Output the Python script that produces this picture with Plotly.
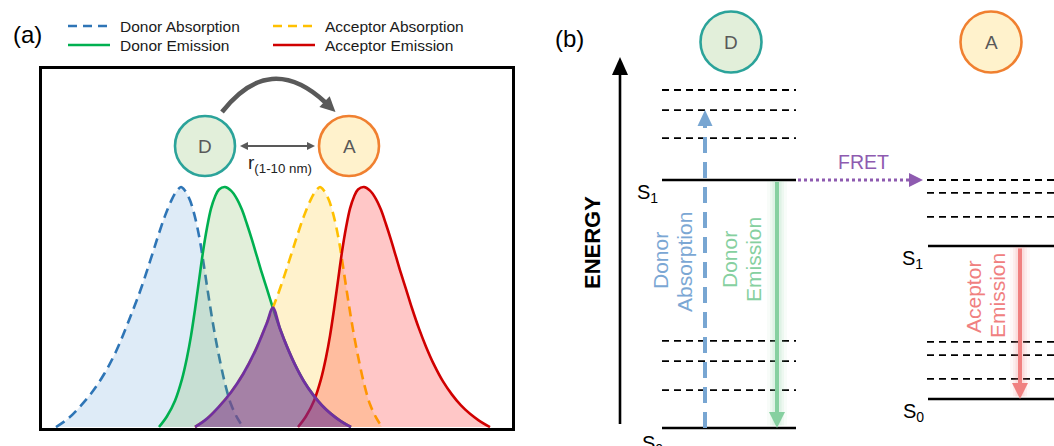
import numpy as np
import plotly.graph_objects as go

W, H = 1054, 446
FONT = "Liberation Sans, Arial, Helvetica, sans-serif"

# ---------------- Panel (a): spectra (x = wavelength, arb. units; y = normalised intensity)
don_abs_x = [56, 68, 80, 92, 104, 116, 128, 140, 150, 158, 165, 172, 177, 181,
             185, 190, 195, 200, 204, 208, 212, 216, 221, 226, 231, 237, 243]
don_abs_y = [0, 0.035, 0.085, 0.145, 0.22, 0.315, 0.435, 0.565, 0.69, 0.795, 0.88, 0.95, 0.985, 1.0,
             0.985, 0.945, 0.875, 0.775, 0.67, 0.56, 0.455, 0.36, 0.255, 0.165, 0.095, 0.04, 0]
don_em_x = [159, 167, 175, 182, 187, 191, 195, 199, 203, 207, 211, 215, 219, 225,
            231, 237, 242, 247, 252, 257, 262, 267, 273, 280, 287, 295, 304, 313, 322, 331, 340, 351]
don_em_y = [0, 0.045, 0.11, 0.2, 0.29, 0.38, 0.49, 0.61, 0.73, 0.83, 0.91, 0.96, 0.99, 1.0,
            0.985, 0.95, 0.905, 0.845, 0.78, 0.71, 0.64, 0.575, 0.495, 0.41, 0.335, 0.26, 0.19, 0.135,
            0.09, 0.055, 0.027, 0]
acc_abs_x = [195, 207, 219, 231, 243, 255, 267, 279, 289, 297, 304, 311, 316, 320,
             324, 329, 334, 339, 343, 347, 351, 355, 360, 365, 370, 376, 382]
acc_abs_y = [0, 0.035, 0.085, 0.145, 0.22, 0.315, 0.435, 0.565, 0.69, 0.795, 0.88, 0.95, 0.985, 1.0,
             0.985, 0.945, 0.875, 0.775, 0.67, 0.56, 0.455, 0.36, 0.255, 0.165, 0.095, 0.04, 0]
acc_em_x = [298, 306, 314, 321, 326, 330, 334, 338, 342, 346, 350, 354, 358, 364,
            370, 376, 381, 386, 391, 396, 401, 406, 412, 419, 426, 434, 443, 452, 461, 470, 479, 490]
acc_em_y = [0, 0.045, 0.11, 0.2, 0.29, 0.38, 0.49, 0.61, 0.73, 0.83, 0.91, 0.96, 0.99, 1.0,
            0.985, 0.95, 0.905, 0.845, 0.78, 0.71, 0.64, 0.575, 0.495, 0.41, 0.335, 0.26, 0.19, 0.135,
            0.09, 0.055, 0.027, 0]
legend_labels = ["Donor Absorption", "Donor Emission", "Acceptor Absorption", "Acceptor Emission"]

# ---------------- Panel (b): Jablonski levels (energy units: donor S0 = 0, donor S1 = 1)
donor_S = [0.0, 1.0]
donor_vib = [1.363, 1.282, 1.169, 0.351, 0.270, 0.153]
acc_S = [0.117, 0.734]
acc_vib = [1.0, 0.948, 0.851, 0.347, 0.294, 0.198]

# colours
C_BLUE, C_GREEN, C_YEL, C_RED, C_PUR = "#2E75B6", "#00B050", "#FFC000", "#D00000", "#7030A0"
F_BLUE, F_GREEN = "rgba(91,155,213,0.2)", "rgba(112,173,71,0.2)"
F_YEL, F_RED = "rgba(255,192,0,0.2)", "rgba(255,0,0,0.22)"
F_PUR = "rgba(112,48,160,0.55)"
GREY = "#595959"
T_BLUE, T_GREEN, T_RED = "#7BA7D4", "#86D0A0", "#F08080"

# pixel <-> energy mapping for panel (b) axis
E0_PX, E_SCALE = 428.0, 248.0
def e2p(e):
    return E0_PX - E_SCALE * e

fig = go.Figure()

# ---- spectra
specs = [
    (don_abs_x, don_abs_y, C_BLUE, F_BLUE, "10px,6px"),
    (don_em_x, don_em_y, C_GREEN, F_GREEN, "solid"),
    (acc_abs_x, acc_abs_y, C_YEL, F_YEL, "10px,6px"),
    (acc_em_x, acc_em_y, C_RED, F_RED, "solid"),
]
for x, y, lc, fc, dash in specs:
    fig.add_trace(go.Scatter(x=x, y=y, mode="lines", fill="tozeroy", fillcolor=fc,
                             line=dict(color=lc, width=2.6, dash=dash, shape="spline", simplify=False),
                             xaxis="x", yaxis="y", hoverinfo="skip", showlegend=False))

# overlap region (min of donor emission and acceptor absorption)
grid = np.linspace(min(acc_abs_x), max(don_em_x), 4000)
diff = np.interp(grid, acc_abs_x, acc_abs_y) - np.interp(grid, don_em_x, don_em_y)
ic = int(np.argmax(diff > 0))
xc = float(grid[ic]); yc = float(np.interp(xc, don_em_x, don_em_y))
ov_x = [v for v in acc_abs_x if v < xc - 1.5] + [xc] + [v for v in don_em_x if v > xc + 1.5]
ov_y = ([acc_abs_y[i] for i, v in enumerate(acc_abs_x) if v < xc - 1.5] + [yc]
        + [don_em_y[i] for i, v in enumerate(don_em_x) if v > xc + 1.5])
fig.add_trace(go.Scatter(x=ov_x, y=ov_y, mode="lines", fill="tozeroy", fillcolor=F_PUR,
                         line=dict(color=C_PUR, width=2.8, shape="spline", simplify=False),
                         xaxis="x", yaxis="y", hoverinfo="skip", showlegend=False))

# ---- panel (b) energy levels
def level_trace(levels, x0, x1, solid):
    xs, ys = [], []
    for e in levels:
        xs += [x0, x1, None]
        ys += [e, e, None]
    return go.Scatter(x=xs, y=ys, mode="lines", xaxis="x2", yaxis="y3", hoverinfo="skip",
                      showlegend=False,
                      line=dict(color="black", width=2.6 if solid else 1.8,
                                dash="solid" if solid else "7px,5px"))

fig.add_trace(level_trace(donor_vib, 662, 796, False))
fig.add_trace(level_trace(donor_S, 662, 796, True))
fig.add_trace(level_trace(acc_vib, 927, 1060, False))
fig.add_trace(level_trace(acc_S, 928, 1060, True))

# transitions
X_ABS, X_DEM, X_AEM = 705, 777, 1020
HEAD = 16
abs_from, abs_to = donor_S[0], donor_vib[1]
dem_from, dem_to = donor_S[1], donor_S[0]
aem_from, aem_to = acc_S[1], acc_S[0]

# glows
for xg, e_a, e_b, col in [(X_DEM, dem_from, dem_to, "134,208,160"), (X_AEM, aem_from, aem_to, "240,128,128")]:
    for wdt, al in [(20, 0.06), (14, 0.09), (9, 0.14)]:
        fig.add_trace(go.Scatter(x=[xg, xg], y=[e_a - 0.004, e_b + 0.01], mode="lines",
                                 line=dict(color=f"rgba({col},{al})", width=wdt),
                                 xaxis="x2", yaxis="y3", hoverinfo="skip", showlegend=False))

fig.add_trace(go.Scatter(x=[X_ABS, X_ABS], y=[abs_from, abs_to - HEAD / E_SCALE], mode="lines",
                         line=dict(color="#78A6D2", width=4, dash="16px,9px"),
                         xaxis="x2", yaxis="y3", hoverinfo="skip", showlegend=False))
fig.add_trace(go.Scatter(x=[X_DEM, X_DEM], y=[dem_from - 0.008, dem_to + HEAD / E_SCALE], mode="lines",
                         line=dict(color="#86D0A0", width=4),
                         xaxis="x2", yaxis="y3", hoverinfo="skip", showlegend=False))
fig.add_trace(go.Scatter(x=[X_AEM, X_AEM], y=[aem_from - 0.01, aem_to + HEAD / E_SCALE], mode="lines",
                         line=dict(color="#F08080", width=4),
                         xaxis="x2", yaxis="y3", hoverinfo="skip", showlegend=False))
fig.add_trace(go.Scatter(x=[798, 909], y=[donor_S[1], donor_S[1]], mode="lines",
                         line=dict(color="#8E5BB0", width=3, dash="dot"),
                         xaxis="x2", yaxis="y3", hoverinfo="skip", showlegend=False))

shapes = []
annotations = []

def tri(tx, ty, dx, dy, L, Wd, color):
    n = (dx * dx + dy * dy) ** 0.5
    dx, dy = dx / n, dy / n
    bx, by = tx - L * dx, ty - L * dy
    nx, ny = -dy, dx
    p1 = (bx + Wd / 2 * nx, by + Wd / 2 * ny)
    p2 = (bx - Wd / 2 * nx, by - Wd / 2 * ny)
    shapes.append(dict(type="path", xref="x2", yref="y2",
                       path=f"M {tx},{ty} L {p1[0]},{p1[1]} L {p2[0]},{p2[1]} Z",
                       fillcolor=color, line=dict(width=0), layer="above"))

def line(x0, y0, x1, y1, color, width, dash="solid"):
    shapes.append(dict(type="line", xref="x2", yref="y2", x0=x0, y0=y0, x1=x1, y1=y1,
                       line=dict(color=color, width=width, dash=dash), layer="above"))

def circle(cx, cy, r, fill, lc, letter):
    shapes.append(dict(type="circle", xref="x2", yref="y2", x0=cx - r, x1=cx + r, y0=cy - r, y1=cy + r,
                       fillcolor=fill, line=dict(color=lc, width=2.6), layer="above"))
    annotations.append(dict(x=cx, y=cy, xref="x2", yref="y2", text=letter, showarrow=False,
                            font=dict(family=FONT, size=19, color=GREY)))

def text(x, y, s, size, color="black", angle=0, xanchor="center", yanchor="middle"):
    annotations.append(dict(x=x, y=y, xref="x2", yref="y2", text=s, showarrow=False, textangle=angle,
                            xanchor=xanchor, yanchor=yanchor, font=dict(family=FONT, size=size, color=color)))

# arrowheads panel (b)
tri(X_ABS, e2p(abs_to), 0, -1, HEAD, 15, "#78A6D2")
tri(X_DEM, e2p(dem_to), 0, 1, HEAD, 16, "#86D0A0")
tri(X_AEM, e2p(aem_to), 0, 1, HEAD, 16, "#F08080")
tri(923, e2p(donor_S[1]), 1, 0, 14, 14, "#8E5BB0")

# energy axis
line(620, 424, 620, 72, "black", 2.6)
tri(620, 57, 0, -1, 18, 16, "black")

# legend (a)
leg = [(68, 26, C_BLUE, "9px,6px"), (68, 45, C_GREEN, "solid"),
       (273, 26, C_YEL, "9px,6px"), (273, 45, C_RED, "solid")]
for (lx, ly, col, dash), lab in zip(leg, legend_labels):
    line(lx, ly, lx + 42, ly, col, 2.6, dash)
    text(lx + 50, ly, lab, 15.5, "#1a1a1a", xanchor="left")

# panel labels
text(27, 34, "(a)", 24)
text(569, 38, "(b)", 24)

# panel (a) D/A schematic
circle(205, 146, 30, "#E2EFDA", "#2BA39A", "D")
circle(349, 146, 30, "#FFF2CC", "#F08030", "A")
line(246, 146, 309, 146, GREY, 2)
tri(240, 146, -1, 0, 8, 8, GREY)
tri(315, 146, 1, 0, 8, 8, GREY)
text(280, 164, "r<sub>(1-10 nm)</sub>", 19, "#222222")
S = (222, 112); C = (270, 50.5); B = (326, 103)
shapes.append(dict(type="path", xref="x2", yref="y2",
                   path=f"M {S[0]},{S[1]} Q {C[0]},{C[1]} {B[0]},{B[1]}",
                   line=dict(color=GREY, width=4.6), layer="above"))
tdx, tdy = B[0] - C[0], B[1] - C[1]
nn = (tdx ** 2 + tdy ** 2) ** 0.5
tri(B[0] + 13 * tdx / nn, B[1] + 13 * tdy / nn, tdx, tdy, 15, 15, GREY)

# panel (b) circles and texts
circle(731, 42, 30.5, "#E2EFDA", "#2BA39A", "D")
circle(991, 42, 30.5, "#FFF2CC", "#F08030", "A")
text(592, 243, "<b>ENERGY</b>", 22, "black", angle=-90)
text(660, 261, "Donor", 21, T_BLUE, angle=-90)
text(684, 262, "Absorption", 21, T_BLUE, angle=-90)
text(729, 260, "Donor", 21, T_GREEN, angle=-90)
text(753, 260, "Emission", 21, T_GREEN, angle=-90)
text(973, 297, "Aceptor", 21, T_RED, angle=-90)
text(997, 296, "Emission", 21, T_RED, angle=-90)
text(863, 162, "FRET", 19.5, "#8E5BB0")
text(635, 193, "S<sub>1</sub>", 20, xanchor="left")
text(640, 444, "S<sub>0</sub>", 20, xanchor="left")
text(900, 259, "S<sub>1</sub>", 20, xanchor="left")
text(901, 412, "S<sub>0</sub>", 20, xanchor="left")

fig.update_layout(
    width=W, height=H, margin=dict(l=0, r=0, t=0, b=0),
    paper_bgcolor="white", plot_bgcolor="rgba(0,0,0,0)", showlegend=False,
    font=dict(family=FONT),
    xaxis=dict(domain=[42 / W, 512 / W], range=[42, 512], showline=True, mirror=True,
               linecolor="black", linewidth=2.6, showgrid=False, zeroline=False,
               showticklabels=False, ticks="", fixedrange=True),
    yaxis=dict(domain=[(H - 428) / H, (H - 69) / H], range=[-0.004, 1.492], showline=True, mirror=True,
               linecolor="black", linewidth=2.6, showgrid=False, zeroline=False,
               showticklabels=False, ticks="", fixedrange=True),
    xaxis2=dict(domain=[0, 1], range=[0, W], visible=False, anchor="y2", fixedrange=True),
    yaxis2=dict(domain=[0, 1], range=[H, 0], visible=False, anchor="x2", fixedrange=True),
    yaxis3=dict(domain=[0, 1], range=[(E0_PX - H) / E_SCALE, E0_PX / E_SCALE],
                visible=False, anchor="x2", fixedrange=True),
    shapes=shapes, annotations=annotations,
)
fig.write_html("out.html")
